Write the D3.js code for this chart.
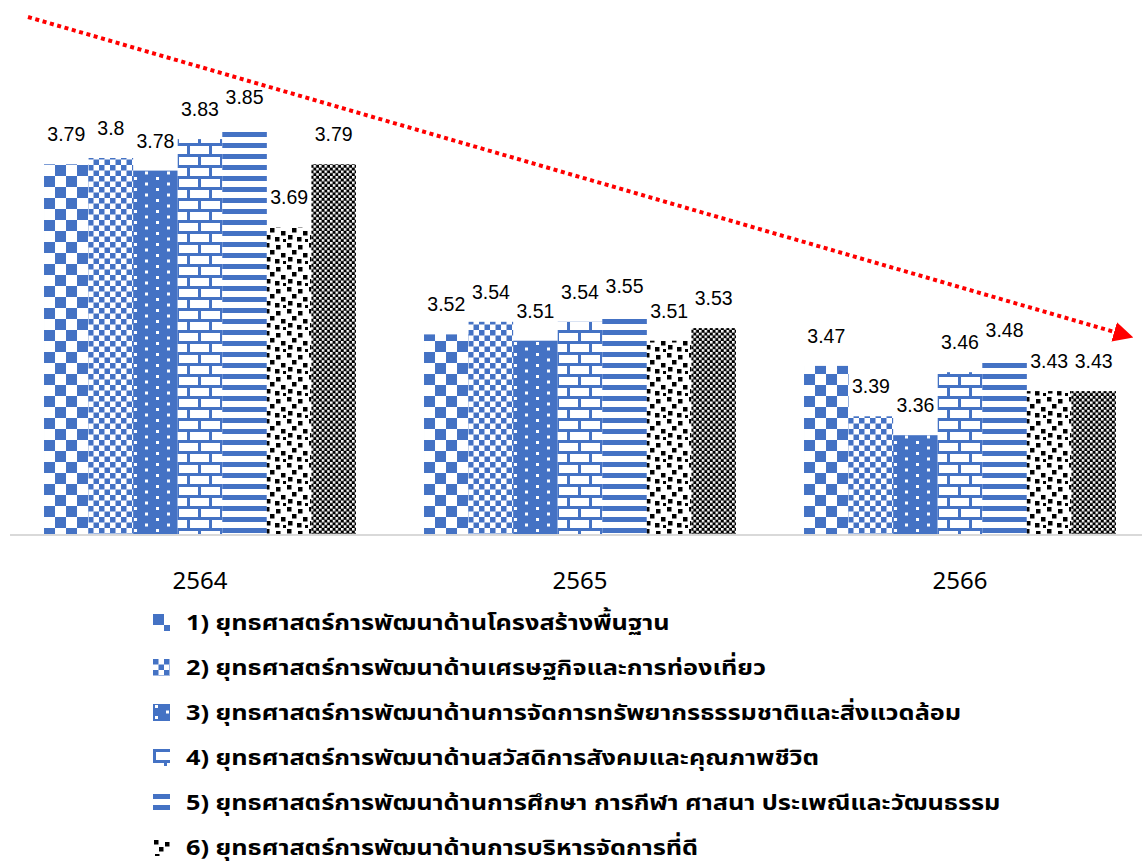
<!DOCTYPE html>
<html>
<head>
<meta charset="utf-8">
<script src="https://cdn.jsdelivr.net/npm/d3@7"></script>
<style>
  body { margin: 0; background: #fff; }
  svg { display: block; }
  .val { font-family: "Liberation Sans", Arial, sans-serif; font-size: 19.5px; fill: #000; }
  .cat { font-family: "Noto Sans", sans-serif; font-size: 24px; fill: #000; }
  .leg { font-family: "Noto Sans Thai", Tahoma, "Noto Sans", sans-serif; font-size: 22px; font-weight: bold; fill: #000; }
</style>
</head>
<body>
<svg id="chart"></svg>
<script>
// chart data
let years = ["2564", "2565", "2566"];
let s1 = [3.79, 3.52, 3.47];
let s2 = [3.8, 3.54, 3.39];
let s3 = [3.78, 3.51, 3.36];
let s4 = [3.83, 3.54, 3.46];
let s5 = [3.85, 3.55, 3.48];
let s6 = [3.69, 3.51, 3.43];
let s7 = [3.79, 3.53, 3.43];
let names = [
  "1) ยุทธศาสตร์การพัฒนาด้านโครงสร้างพื้นฐาน",
  "2) ยุทธศาสตร์การพัฒนาด้านเศรษฐกิจและการท่องเที่ยว",
  "3) ยุทธศาสตร์การพัฒนาด้านการจัดการทรัพยากรธรรมชาติและสิ่งแวดล้อม",
  "4) ยุทธศาสตร์การพัฒนาด้านสวัสดิการสังคมและคุณภาพชีวิต",
  "5) ยุทธศาสตร์การพัฒนาด้านการศึกษา การกีฬา ศาสนา ประเพณีและวัฒนธรรม",
  "6) ยุทธศาสตร์การพัฒนาด้านการบริหารจัดการที่ดี"
];

let series = [s1, s2, s3, s4, s5, s6, s7];
let blue = "#4472C4";
let width = 1142, height = 863;

let svg = d3.select("#chart").attr("width", width).attr("height", height);
let defs = svg.append("defs");

// fill patterns, one per series
function pattern(id, w, h, bg) {
  let p = defs.append("pattern").attr("id", id)
    .attr("patternUnits", "userSpaceOnUse")
    .attr("width", w).attr("height", h);
  p.append("rect").attr("width", w).attr("height", h).attr("fill", bg);
  return p;
}
function sq(p, x, y, w, h, c) {
  p.append("rect").attr("x", x).attr("y", y).attr("width", w).attr("height", h).attr("fill", c);
}

let p0 = pattern("p0", 22, 22, "#fff");
sq(p0, 0, 0, 11, 11, blue); sq(p0, 11, 11, 11, 11, blue);

let p1 = pattern("p1", 11, 11, "#fff");
sq(p1, 0, 0, 5.5, 5.5, blue); sq(p1, 5.5, 5.5, 5.5, 5.5, blue);

let p2 = pattern("p2", 22, 11, blue);
sq(p2, 2, 1, 3, 3, "#fff"); sq(p2, 13, 6.5, 3, 3, "#fff");

let p3 = pattern("p3", 22, 22, "#fff");
sq(p3, 0, 0, 22, 3, blue); sq(p3, 0, 11, 22, 3, blue);
sq(p3, 0, 0, 3, 11, blue); sq(p3, 11, 11, 3, 11, blue);

let p4 = pattern("p4", 11, 11, "#fff");
sq(p4, 0, 0, 11, 5, blue);

let p5 = pattern("p5", 22, 22, "#fff");
[[1, 1], [12, 3], [6, 8], [17, 11], [2, 15], [11, 17], [19, 19]].forEach(d => sq(p5, d[0], d[1], 4.5, 4.5, "#000"));

let p6 = pattern("p6", 5.5, 5.5, "#000");
sq(p6, 0, 0, 2.5, 2.5, "#fff"); sq(p6, 2.75, 2.75, 2.5, 2.5, "#fff");

// scales
let x0 = d3.scaleBand().domain(years).range([10, 1150]).paddingInner(0.179).paddingOuter(0.0895);
let x1 = d3.scaleBand().domain(d3.range(series.length)).range([0, x0.bandwidth()]);
let y = d3.scaleLinear().domain([3.2, 4.0]).range([536, 32]);

// bars
let groups = svg.append("g").selectAll("g")
  .data(years)
  .enter()
  .append("g")
  .attr("transform", d => "translate(" + x0(d) + ",0)");

groups.selectAll("rect")
  .data((d, i) => series.map((s, k) => ({k: k, v: s[i]})))
  .enter()
  .append("rect")
  .attr("x", d => x1(d.k))
  .attr("y", d => y(d.v))
  .attr("width", x1.bandwidth())
  .attr("height", d => y(3.2) - y(d.v))
  .attr("fill", d => "url(#p" + d.k + ")");

groups.selectAll("text")
  .data((d, i) => series.map((s, k) => ({k: k, v: s[i]})))
  .enter()
  .append("text")
  .attr("class", "val")
  .attr("x", d => x1(d.k) + x1.bandwidth() / 2)
  .attr("y", d => y(d.v) - 23)
  .attr("text-anchor", "middle")
  .text(d => String(d.v));

// category axis
svg.append("line")
  .attr("x1", 10).attr("x2", width)
  .attr("y1", y(3.2) - 1).attr("y2", y(3.2) - 1)
  .attr("stroke", "#d9d9d9").attr("stroke-width", 2);

svg.append("g").selectAll("text")
  .data(years)
  .enter()
  .append("text")
  .attr("class", "cat")
  .attr("x", d => x0(d) + x0.bandwidth() / 2)
  .attr("y", 589)
  .attr("text-anchor", "middle")
  .text(d => d);

// trend arrow
defs.append("marker").attr("id", "arrow")
  .attr("viewBox", "0 0 10 10").attr("refX", 2).attr("refY", 5)
  .attr("markerWidth", 5).attr("markerHeight", 5)
  .attr("markerUnits", "strokeWidth").attr("orient", "auto")
  .append("path").attr("d", "M0,0 L10,5 L0,10 Z").attr("fill", "#ff0000");

svg.append("line")
  .attr("x1", 28).attr("y1", 17).attr("x2", 1118).attr("y2", 333)
  .attr("stroke", "#ff0000").attr("stroke-width", 4)
  .attr("stroke-dasharray", "4 3.6")
  .attr("marker-end", "url(#arrow)");

// legend
let leg = svg.append("g").selectAll("g")
  .data(names)
  .enter()
  .append("g")
  .attr("transform", (d, i) => "translate(153," + (614 + i * 45) + ")");

leg.append("rect")
  .attr("width", 17).attr("height", 17)
  .attr("fill", (d, i) => "url(#p" + i + ")");

leg.append("text")
  .attr("class", "leg")
  .attr("transform", "translate(33,16) scale(1.15,1)")
  .text(d => d);
</script>
</body>
</html>
